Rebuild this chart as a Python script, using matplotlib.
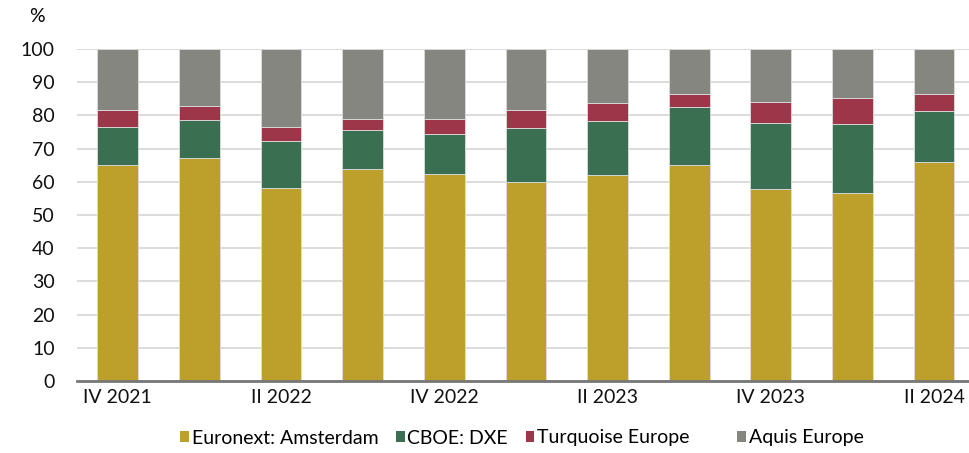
import numpy as np
import matplotlib.pyplot as plt
from matplotlib.patches import Patch

#-------------------#
# Data
#-------------------#
quarters = ["IV 2021", "I 2022", "II 2022", "III 2022", "IV 2022", "I 2023",
            "II 2023", "III 2023", "IV 2023", "I 2024", "II 2024"]
euronext = np.array([65.2, 67.1, 58.2, 63.9, 62.3, 59.9, 61.9, 65.2, 57.8, 56.6, 65.9])
cboe = np.array([11.3, 11.4, 14.2, 11.8, 12.2, 16.2, 16.5, 17.4, 20.0, 20.7, 15.5])
turquoise = np.array([5.2, 4.4, 4.1, 3.2, 4.4, 5.6, 5.4, 3.9, 6.3, 8.0, 5.1])
aquis = 100 - euronext - cboe - turquoise

series = [euronext, cboe, turquoise, aquis]
names = ["Euronext: Amsterdam", "CBOE: DXE", "Turquoise Europe      ", "Aquis Europe"]
colors = ["#bda02b", "#3a6f52", "#9e3649", "#868680"]

#-------------------#
# Plot
#-------------------#
plt.rcParams['font.family'] = ['Lato', 'DejaVu Sans']
plt.rcParams['font.size'] = 14

fig = plt.figure(figsize=(9.7, 4.53), dpi=100)
ax = fig.add_axes([77 / 970, 72 / 453, 893 / 970, 332 / 453])

x = np.arange(len(quarters))
bottom = np.zeros(len(quarters))
for vals, c in zip(series, colors):
    ax.bar(x, vals, 0.5, bottom=bottom, color=c, edgecolor="#dddddd", linewidth=0.6, zorder=3)
    bottom += vals

ax.set_ylim(0, 100)
ax.set_xlim(-0.5, 10.44)
ax.set_yticks(np.arange(0, 101, 10))
ax.set_xticks(x[::2])
ax.set_xticklabels(quarters[::2])
ax.tick_params(length=0, pad=6, labelcolor="#111111")
ax.tick_params(axis="y", pad=16)
ax.yaxis.grid(True, color="#d6d6d6", linewidth=1.2, zorder=0)
for s in ["top", "right", "left"]:
    ax.spines[s].set_visible(False)
ax.spines["bottom"].set_color("#777777")
ax.spines["bottom"].set_linewidth(2)
ax.spines["bottom"].set_zorder(4)

fig.text(37 / 970, 1 - 16 / 453, "%", ha="center", va="center", fontsize=14)

handles = [Patch(facecolor=c, edgecolor="none") for c in colors]
fig.legend(handles, names, loc="center", bbox_to_anchor=(0.538, 1 - 438 / 453), ncol=4,
           frameon=False, handlelength=0.45, handleheight=0.45, handletextpad=0.15,
           columnspacing=0.9, fontsize=14)

fig.savefig("out.png", dpi=100)
